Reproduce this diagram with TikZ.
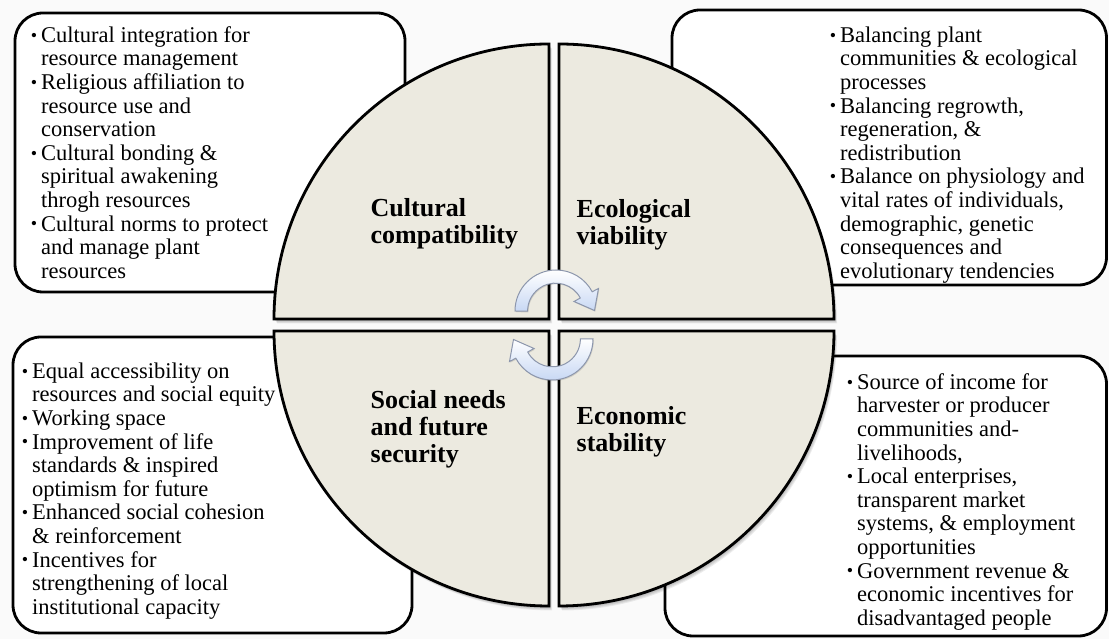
\documentclass[tikz,border=0pt]{standalone}
\usepackage{fontspec}
\setmainfont{Liberation Serif}
\definecolor{quadfill}{RGB}{236,234,224}
\definecolor{bgcol}{RGB}{250,250,250}
\definecolor{arrowfill}{RGB}{200,216,244}
\definecolor{arrowline}{RGB}{140,150,172}
\newcommand\bul{\strut\llap{\raisebox{1.2pt}{\fontsize{18}{18}\selectfont\textbullet}\hspace{4pt}}}
\newcommand\quadTL{(549,320) -- (274,320) arc[start angle=180, end angle=90, radius=275] -- cycle}
\newcommand\quadTR{(559,320) -- (559,595) arc[start angle=90, end angle=0, radius=275] -- cycle}
\newcommand\quadBL{(549,308) -- (274,308) arc[start angle=180, end angle=270, radius=275] -- cycle}
\newcommand\quadBR{(559,308) -- (559,33) arc[start angle=270, end angle=360, radius=275] -- cycle}
\newcommand\cycpath{(515,328) arc[start angle=180, end angle=28, radius=41] -- (598.5,350.5) -- (594.5,328.5) -- (574,337.5) -- (580.3,341) arc[start angle=28, end angle=180, radius=28] -- cycle}
\begin{document}
\begin{tikzpicture}[x=1pt,y=1pt,
  infobox/.style={draw=black, line width=2.8pt, fill=white, rounded corners=28pt, inner sep=0pt},
  itemtext/.style={anchor=north west, inner sep=0pt, align=left, font=\fontsize{22.5}{23.6}\selectfont},
  quadlabel/.style={anchor=north west, inner sep=0pt, align=left, font=\fontsize{26}{27.2}\selectfont\bfseries},
  quad/.style={fill=quadfill, draw=black, line width=2.8pt, line join=miter},
  quadshadow/.style={fill=black, opacity=0.07},
  cycarrow/.style={draw=arrowline, line width=1pt, top color=white, bottom color=arrowfill}
]
\fill[bgcol] (0,0) rectangle (1109,639);
\useasboundingbox (0,0) rectangle (1109,639);

% outer boxes
\node[infobox, minimum width=390, minimum height=279] (boxTL) at (210,486.5) {};
\node[infobox, minimum width=434.5, minimum height=275] (boxTR) at (889.25,491.5) {};
\node[infobox, minimum width=399, minimum height=296] (boxBL) at (212.5,154) {};
\node[infobox, minimum width=441.5, minimum height=280] (boxBR) at (885.75,143) {};

% quadrant shadows
\foreach \s in {1,...,5}{
  \fill[quadshadow, shift={({\s*0.6},{-\s*0.9})}] \quadTL;
  \fill[quadshadow, shift={({\s*0.6},{-\s*0.9})}] \quadTR;
  \fill[quadshadow, shift={({\s*0.6},{-\s*0.9})}] \quadBL;
  \fill[quadshadow, shift={({\s*0.6},{-\s*0.9})}] \quadBR;
}
% quadrants
\draw[quad] \quadTL;
\draw[quad] \quadTR;
\draw[quad] \quadBL;
\draw[quad] \quadBR;

% quadrant labels
\node[quadlabel] (labCult) at (370.5,442) {\strut Cultural\\compatibility};
\node[quadlabel] (labEco) at (576.5,441) {\strut Ecological\\viability};
\node[quadlabel] (labSoc) at (370.5,250) {\strut Social needs\\and future\\security};
\node[quadlabel] (labEcon) at (576.5,234) {\strut Economic\\stability};

% cycle arrows
\fill[black, opacity=0.12, shift={(0.8,-1.2)}] \cycpath;
\draw[cycarrow] \cycpath;
\begin{scope}[rotate around={180:(554,314)}]
\fill[black, opacity=0.12, shift={(-0.8,1.2)}] \cycpath;
\draw[cycarrow] \cycpath;
\end{scope}

% box texts
\node[itemtext] (txtTL) at (41,613.5) {\bul Cultural integration for\\resource management\\
\bul Religious affiliation to\\resource use and\\conservation\\
\bul Cultural bonding \&\\spiritual awakening\\throgh resources\\
\bul Cultural norms to protect\\and manage plant\\resources};
\node[itemtext] (txtTR) at (840,613.5) {\bul Balancing plant\\communities \& ecological\\processes\\
\bul Balancing regrowth,\\regeneration, \&\\redistribution\\
\bul Balance on physiology and\\vital rates of individuals,\\demographic, genetic\\consequences and\\evolutionary tendencies};
\node[itemtext] (txtBL) at (32,277.5) {\bul Equal accessibility on\\resources and social equity\\
\bul Working space\\
\bul Improvement of life\\standards \& inspired\\optimism for future\\
\bul Enhanced social cohesion\\\& reinforcement\\
\bul Incentives for\\strengthening of local\\institutional capacity};
\node[itemtext] (txtBR) at (857,266.5) {\bul Source of income for\\harvester or producer\\communities and-\\livelihoods,\\
\bul Local enterprises,\\transparent market\\systems, \& employment\\opportunities\\
\bul Government revenue \&\\economic incentives for\\disadvantaged people};
\end{tikzpicture}
\end{document}
